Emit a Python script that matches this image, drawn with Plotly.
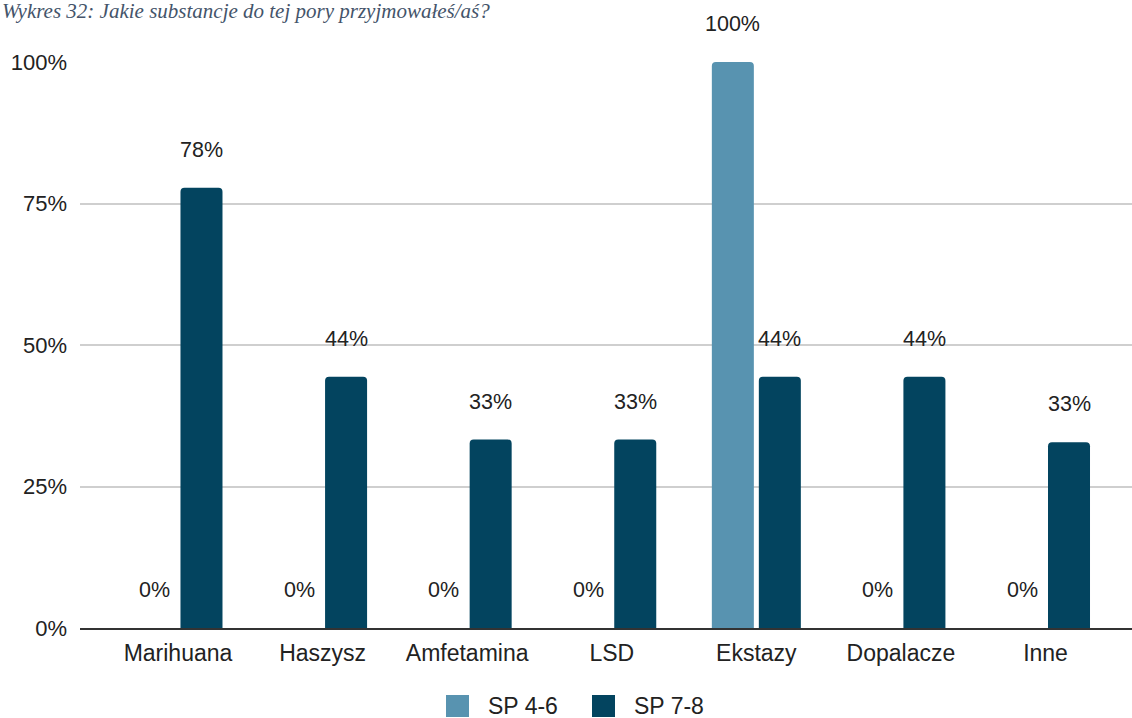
import plotly.graph_objects as go

# Survey data: share of respondents who used each substance
categories = ["Marihuana", "Haszysz", "Amfetamina", "LSD", "Ekstazy", "Dopalacze", "Inne"]
series_names = ["SP 4-6", "SP 7-8"]
sp_4_6 = [0, 0, 0, 0, 100, 0, 0]
sp_7_8 = [77.8, 44.4, 33.3, 33.3, 44.4, 44.4, 32.8]
series_values = [sp_4_6, sp_7_8]
y_tick_values = [0, 25, 50, 75, 100]
y_tick_labels = ["0%", "25%", "50%", "75%", "100%"]
title_text = "Wykres 32: Jakie substancje do tej pory przyjmowałeś/aś?"

colors = ["#5893b0", "#03445f"]
FONT = "Liberation Sans, Arial, sans-serif"
TEXT_COLOR = "#222222"

# Page geometry (pixels)
W, H = 1132, 718
M_L, M_R, M_T, M_B = 80, 0, 62, 90
plot_w = W - M_L - M_R
plot_h = H - M_T - M_B


def px_x(px):
    return (px - M_L) / plot_w


def px_y(py):
    return (H - M_B - py) / plot_h


bargap = 0.35
bargroupgap = 0.106
slot = (1 - bargap) / len(series_values)

x_pos = list(range(len(categories)))
fig = go.Figure()
for name, vals, col in zip(series_names, series_values, colors):
    fig.add_trace(go.Bar(
        x=x_pos, y=vals, name=name,
        marker=dict(color=col, line=dict(width=0)),
        showlegend=False,
    ))

# Value labels above each bar
annotations = []
for k, vals in enumerate(series_values):
    offset = (k - (len(series_values) - 1) / 2) * slot
    for i, v in enumerate(vals):
        annotations.append(dict(
            x=i + offset, y=v, xref="x", yref="y",
            text=f"{round(v)}%", showarrow=False,
            yanchor="middle", xanchor="center", yshift=38,
            font=dict(family=FONT, size=21.5, color=TEXT_COLOR),
        ))

# Caption above the chart
annotations.append(dict(
    x=px_x(0), y=px_y(11), xref="paper", yref="paper",
    text=title_text, showarrow=False, xanchor="left", yanchor="middle",
    font=dict(family="Liberation Serif, Times New Roman, serif", size=21,
              color="#44546a", style="italic"),
))

# Legend drawn as square swatches with labels
shapes = []
legend_items = [(446, 486), (592, 632)]
for (sq_x, tx_x), name, col in zip(legend_items, series_names, colors):
    shapes.append(dict(
        type="rect", xref="paper", yref="paper",
        x0=px_x(sq_x), x1=px_x(sq_x + 23), y0=px_y(695), y1=px_y(717),
        fillcolor=col, line=dict(width=0),
    ))
    annotations.append(dict(
        x=px_x(tx_x), y=px_y(706), xref="paper", yref="paper",
        text=name, showarrow=False, xanchor="left", yanchor="middle",
        font=dict(family=FONT, size=23, color=TEXT_COLOR),
    ))

span = 144.6
x_left = -(178 - M_L) / span
x_right = (len(categories) - 1) + (W - M_R - 1045.5) / span

fig.update_layout(
    width=W, height=H,
    margin=dict(l=M_L, r=M_R, t=M_T, b=M_B, pad=0),
    paper_bgcolor="white", plot_bgcolor="white",
    barmode="group", bargap=bargap, bargroupgap=bargroupgap,
    barcornerradius=4,
    showlegend=False,
    annotations=annotations,
    shapes=shapes,
    xaxis=dict(
        range=[x_left, x_right],
        tickmode="array", tickvals=x_pos, ticktext=categories,
        showgrid=False, zeroline=False,
        showline=True, linecolor="#333333", linewidth=2,
        ticks="", ticklabelstandoff=3,
        tickfont=dict(family=FONT, size=23, color=TEXT_COLOR),
    ),
    yaxis=dict(
        range=[0, 100],
        tickmode="array", tickvals=y_tick_values, ticktext=y_tick_labels,
        showgrid=True, gridcolor="#cfcfcf", gridwidth=1.5,
        zeroline=False, showline=False,
        ticks="", ticklabelstandoff=12,
        tickfont=dict(family=FONT, size=22, color=TEXT_COLOR),
    ),
)

fig.write_html("out.html")
